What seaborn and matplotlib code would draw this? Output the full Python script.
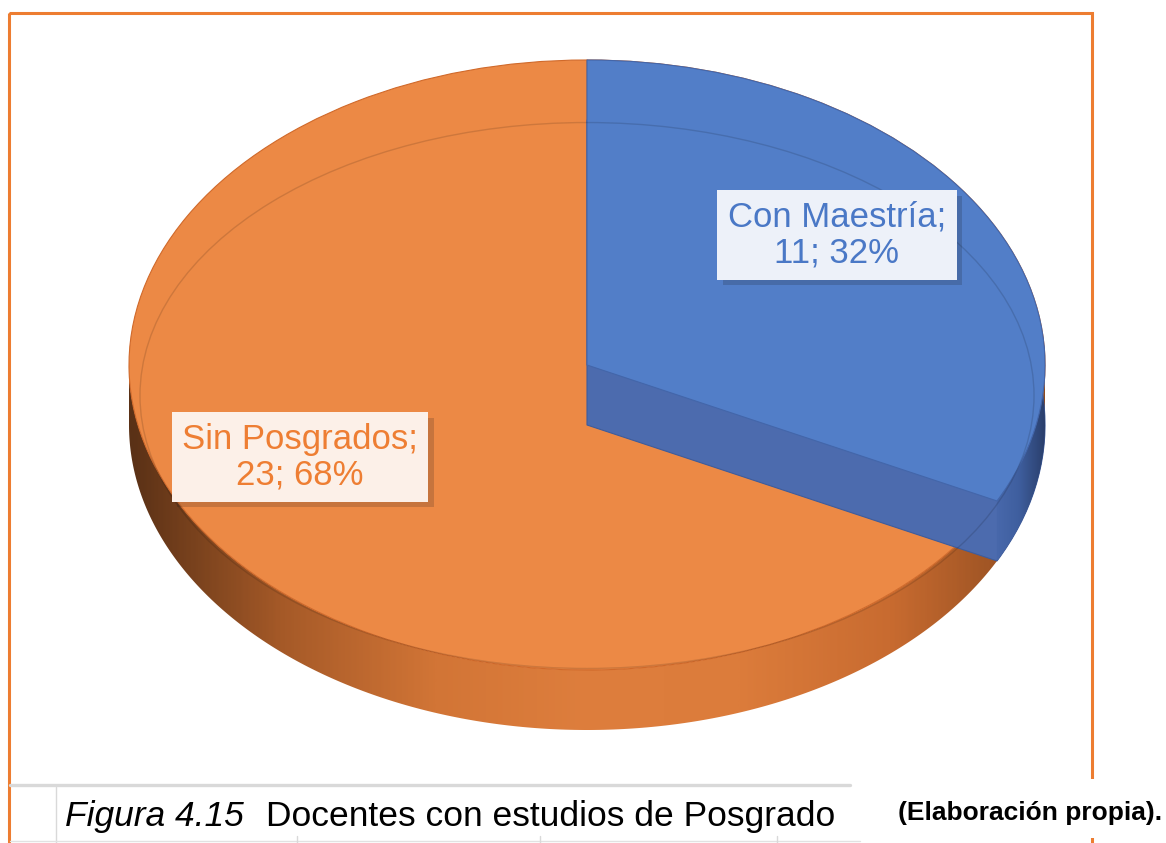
import numpy as np
import matplotlib
matplotlib.use("Agg")
import matplotlib.pyplot as plt
import matplotlib.patheffects as pe
from matplotlib.patches import Polygon, Ellipse, Rectangle
import seaborn as sns

# data
categorias = ["Con Maestría", "Sin Posgrados"]
docentes = [11, 23]
porcentajes = [32, 68]

# colores
azul = "#527ec8"
azul_banda = "#4c6bae"
naranja = "#ec8945"
texto_azul = "#4a78c6"
texto_naranja = "#ee7e33"

sns.set_theme(style="white")
plt.rcParams["font.family"] = ["Liberation Sans", "DejaVu Sans"]

W, H = 1166, 843
fig = plt.figure(figsize=(W / 100, H / 100), dpi=100)

# geometry of the tilted pie (pixels)
cx, cy, rx, ry = 587, 365, 458, 305
prof = 60 / ry  # thickness of the side, in pie units

axpie = fig.add_axes([0, 0, 1, 1], zorder=1)
axpie.axis("off")

# side wall with a horizontal gradient
t = np.linspace(np.pi, 2 * np.pi, 300)
lado = Polygon(np.r_[np.c_[np.cos(t), np.sin(t)],
                     np.c_[np.cos(t), np.sin(t) - prof][::-1]],
               closed=True, fc="none", ec="none")
axpie.add_patch(lado)
cmap_lado = sns.blend_palette(["#5a3116", "#a65a28", "#d27536", "#de7e3d",
                               "#dc7c3b", "#c86b30", "#8c4a1f"], as_cmap=True)
grad = np.linspace(0, 1, 400)[None, :]
im = axpie.imshow(grad, extent=(-1, 1, -1 - prof - 0.05, 0.05), aspect="auto",
                  cmap=cmap_lado, zorder=0.5)
im.set_clip_path(lado)

# top face
w1, _ = axpie.pie(docentes, colors=[azul, naranja], startangle=90,
                  counterclock=False, radius=1, center=(0, 0),
                  wedgeprops=dict(edgecolor="#d0692a", linewidth=0.8, zorder=2))
# the visible wall of the blue slice
w2, _ = axpie.pie(docentes, colors=[azul_banda, "none"], startangle=90,
                  counterclock=False, radius=1, center=(0, -prof),
                  wedgeprops=dict(edgecolor="#3e5c9c", linewidth=0.8, zorder=3))
w2[1].set_visible(False)

# darker outer wall of the blue slice
fin = np.deg2rad(90 - 360 * docentes[0] / sum(docentes))
tb = np.linspace(fin, 0.1, 100)
lado_azul = Polygon(np.r_[np.c_[np.cos(tb), np.sin(tb)],
                          np.c_[np.cos(tb), np.sin(tb) - prof][::-1]],
                    closed=True, fc="none", ec="none")
axpie.add_patch(lado_azul)
cmap_azul = sns.blend_palette(["#4a6aae", "#3f5f9f", "#2a3f6c"], as_cmap=True)
im2 = axpie.imshow(grad, extent=(np.cos(fin) - 0.01, 1.0, -1, 0.2), aspect="auto",
                   cmap=cmap_azul, zorder=3.5)
im2.set_clip_path(lado_azul)

w3, _ = axpie.pie(docentes, colors=[azul, "none"], startangle=90,
                  counterclock=False, radius=1, center=(0, 0),
                  wedgeprops=dict(edgecolor="#4366aa", linewidth=0.8, zorder=4))
w3[1].set_visible(False)

# thin inner rim
axpie.add_patch(Ellipse((0, -0.10), 1.952, 1.79, fill=False,
                        ec=(0, 0, 0, 0.13), lw=1.0, zorder=5))

axpie.set_aspect("auto")
axpie.set_xlim(-cx / rx, (W - cx) / rx)
axpie.set_ylim((cy - H) / ry, cy / ry)

# overlay in pixel coordinates
ax = fig.add_axes([0, 0, 1, 1], zorder=2)
ax.patch.set_alpha(0)
ax.set_xlim(0, W)
ax.set_ylim(H, 0)
ax.axis("off")

etiquetas = [f"{c};\n{n}; {p}%" for c, n, p in zip(categorias, docentes, porcentajes)]
for txt, pos, col, fondo in [(etiquetas[0], (837, 235), texto_azul, "#edf1f9"),
                             (etiquetas[1], (300, 457), texto_naranja, "#fcf0e8")]:
    t_ = ax.text(pos[0], pos[1], txt, ha="center", va="center", fontsize=25,
                 color=col, linespacing=1.1,
                 bbox=dict(boxstyle="square,pad=0.3", fc=fondo, ec="none"))
    t_.get_bbox_patch().set_path_effects(
        [pe.SimplePatchShadow(offset=(4, -4), shadow_rgbFace="k", alpha=0.18), pe.Normal()])

# frame and caption table
ax.add_patch(Rectangle((9, 13), 1083, 900, fill=False, ec="#ed7d31", lw=2.2, zorder=1))
ax.add_patch(Rectangle((856, 779), 320, 59, fc="white", ec="none", zorder=2))
ax.plot([10, 850], [785, 785], color="#d9d9d9", lw=2.4, zorder=3)
ax.plot([56, 56], [787, 843], color="#d9d9d9", lw=1.0, zorder=3)
ax.plot([10, 860], [841, 841], color="#e2e2e2", lw=1.0, zorder=3)
for xv in [297, 540, 777]:
    ax.plot([xv, xv], [836, 843], color="#d9d9d9", lw=1.0, zorder=3)

ax.text(65, 826, "Figura 4.15", fontsize=25.5, fontstyle="italic", color="black",
        ha="left", va="baseline", zorder=4)
ax.text(266, 826, "Docentes con estudios de Posgrado", fontsize=25.5, color="black",
        ha="left", va="baseline", zorder=4)
ax.text(898, 820, "(Elaboración propia).", fontsize=19, fontweight="bold",
        color="black", ha="left", va="baseline", zorder=4)

fig.savefig("out.png", dpi=100)
